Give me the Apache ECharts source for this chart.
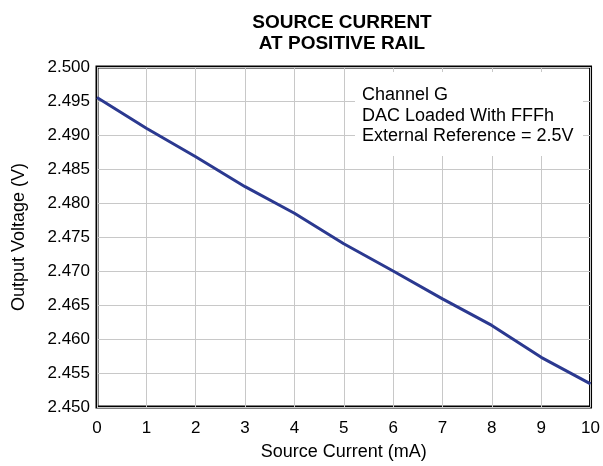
<!DOCTYPE html>
<html>
<head>
<meta charset="utf-8">
<script src="https://cdn.jsdelivr.net/npm/echarts@6/dist/echarts.min.js"></script>
<style>html,body{margin:0;padding:0;background:#fff;}#c{width:603px;height:466px;}</style>
</head>
<body>
<div id="c"></div>
<script>
const currents = [0, 1, 2, 3, 4, 5, 6, 7, 8, 9, 10];
const voltages = [2.4955, 2.4910, 2.4868, 2.4824, 2.4785, 2.4740, 2.4700, 2.4659, 2.4620, 2.4573, 2.4534];
const titleLines = ['SOURCE CURRENT', 'AT POSITIVE RAIL'];
const noteLines = ['Channel G', 'DAC Loaded With FFFh', 'External Reference = 2.5V'];
const xName = 'Source Current (mA)';
const yName = 'Output Voltage (V)';

const font = 'Liberation Sans, Arial, sans-serif';
const chart = echarts.init(document.getElementById('c'), null, {renderer: 'canvas'});
chart.setOption({
  animation: false,
  backgroundColor: '#fff',
  title: {
    text: titleLines.join('\n'),
    left: 337, top: 7, textAlign: 'center',
    textStyle: {fontFamily: font, fontSize: 19, fontWeight: 'bold', color: '#000', lineHeight: 21}
  },
  grid: {left: 97, right: 11, top: 67, bottom: 50, show: true, borderColor: '#000', borderWidth: 3, backgroundColor: 'transparent'},
  xAxis: {
    type: 'value', min: 0, max: 10, interval: 1,
    name: xName, nameLocation: 'middle', nameGap: 36,
    nameTextStyle: {fontFamily: font, fontSize: 18, color: '#000'},
    axisLine: {show: false}, axisTick: {show: false},
    axisLabel: {fontFamily: font, fontSize: 17, color: '#000', margin: 13},
    splitLine: {show: true, lineStyle: {color: '#c8c8c8', width: 1}}
  },
  yAxis: {
    type: 'value', min: 2.45, max: 2.5, interval: 0.005,
    name: yName, nameLocation: 'middle', nameGap: 69, nameRotate: 90,
    nameTextStyle: {fontFamily: font, fontSize: 18, color: '#000'},
    axisLine: {show: false}, axisTick: {show: false},
    axisLabel: {fontFamily: font, fontSize: 17, color: '#000', margin: 7, formatter: v => v.toFixed(3)},
    splitLine: {show: true, lineStyle: {color: '#c8c8c8', width: 1}}
  },
  graphic: [
    {type: 'rect', z: 1, shape: {x: 355, y: 72, width: 228, height: 84}, style: {fill: '#fff'}},
    {type: 'text', z: 2, left: 362, top: 85, style: {text: noteLines.join('\n'), fontFamily: font, fontSize: 18, lineHeight: 20.5, fill: '#000'}}
  ],
  series: [{
    type: 'line', data: currents.map((c, i) => [c, voltages[i]]),
    showSymbol: false, smooth: false, z: 3,
    lineStyle: {color: '#2b3990', width: 3}
  }]
});
</script>
</body>
</html>
